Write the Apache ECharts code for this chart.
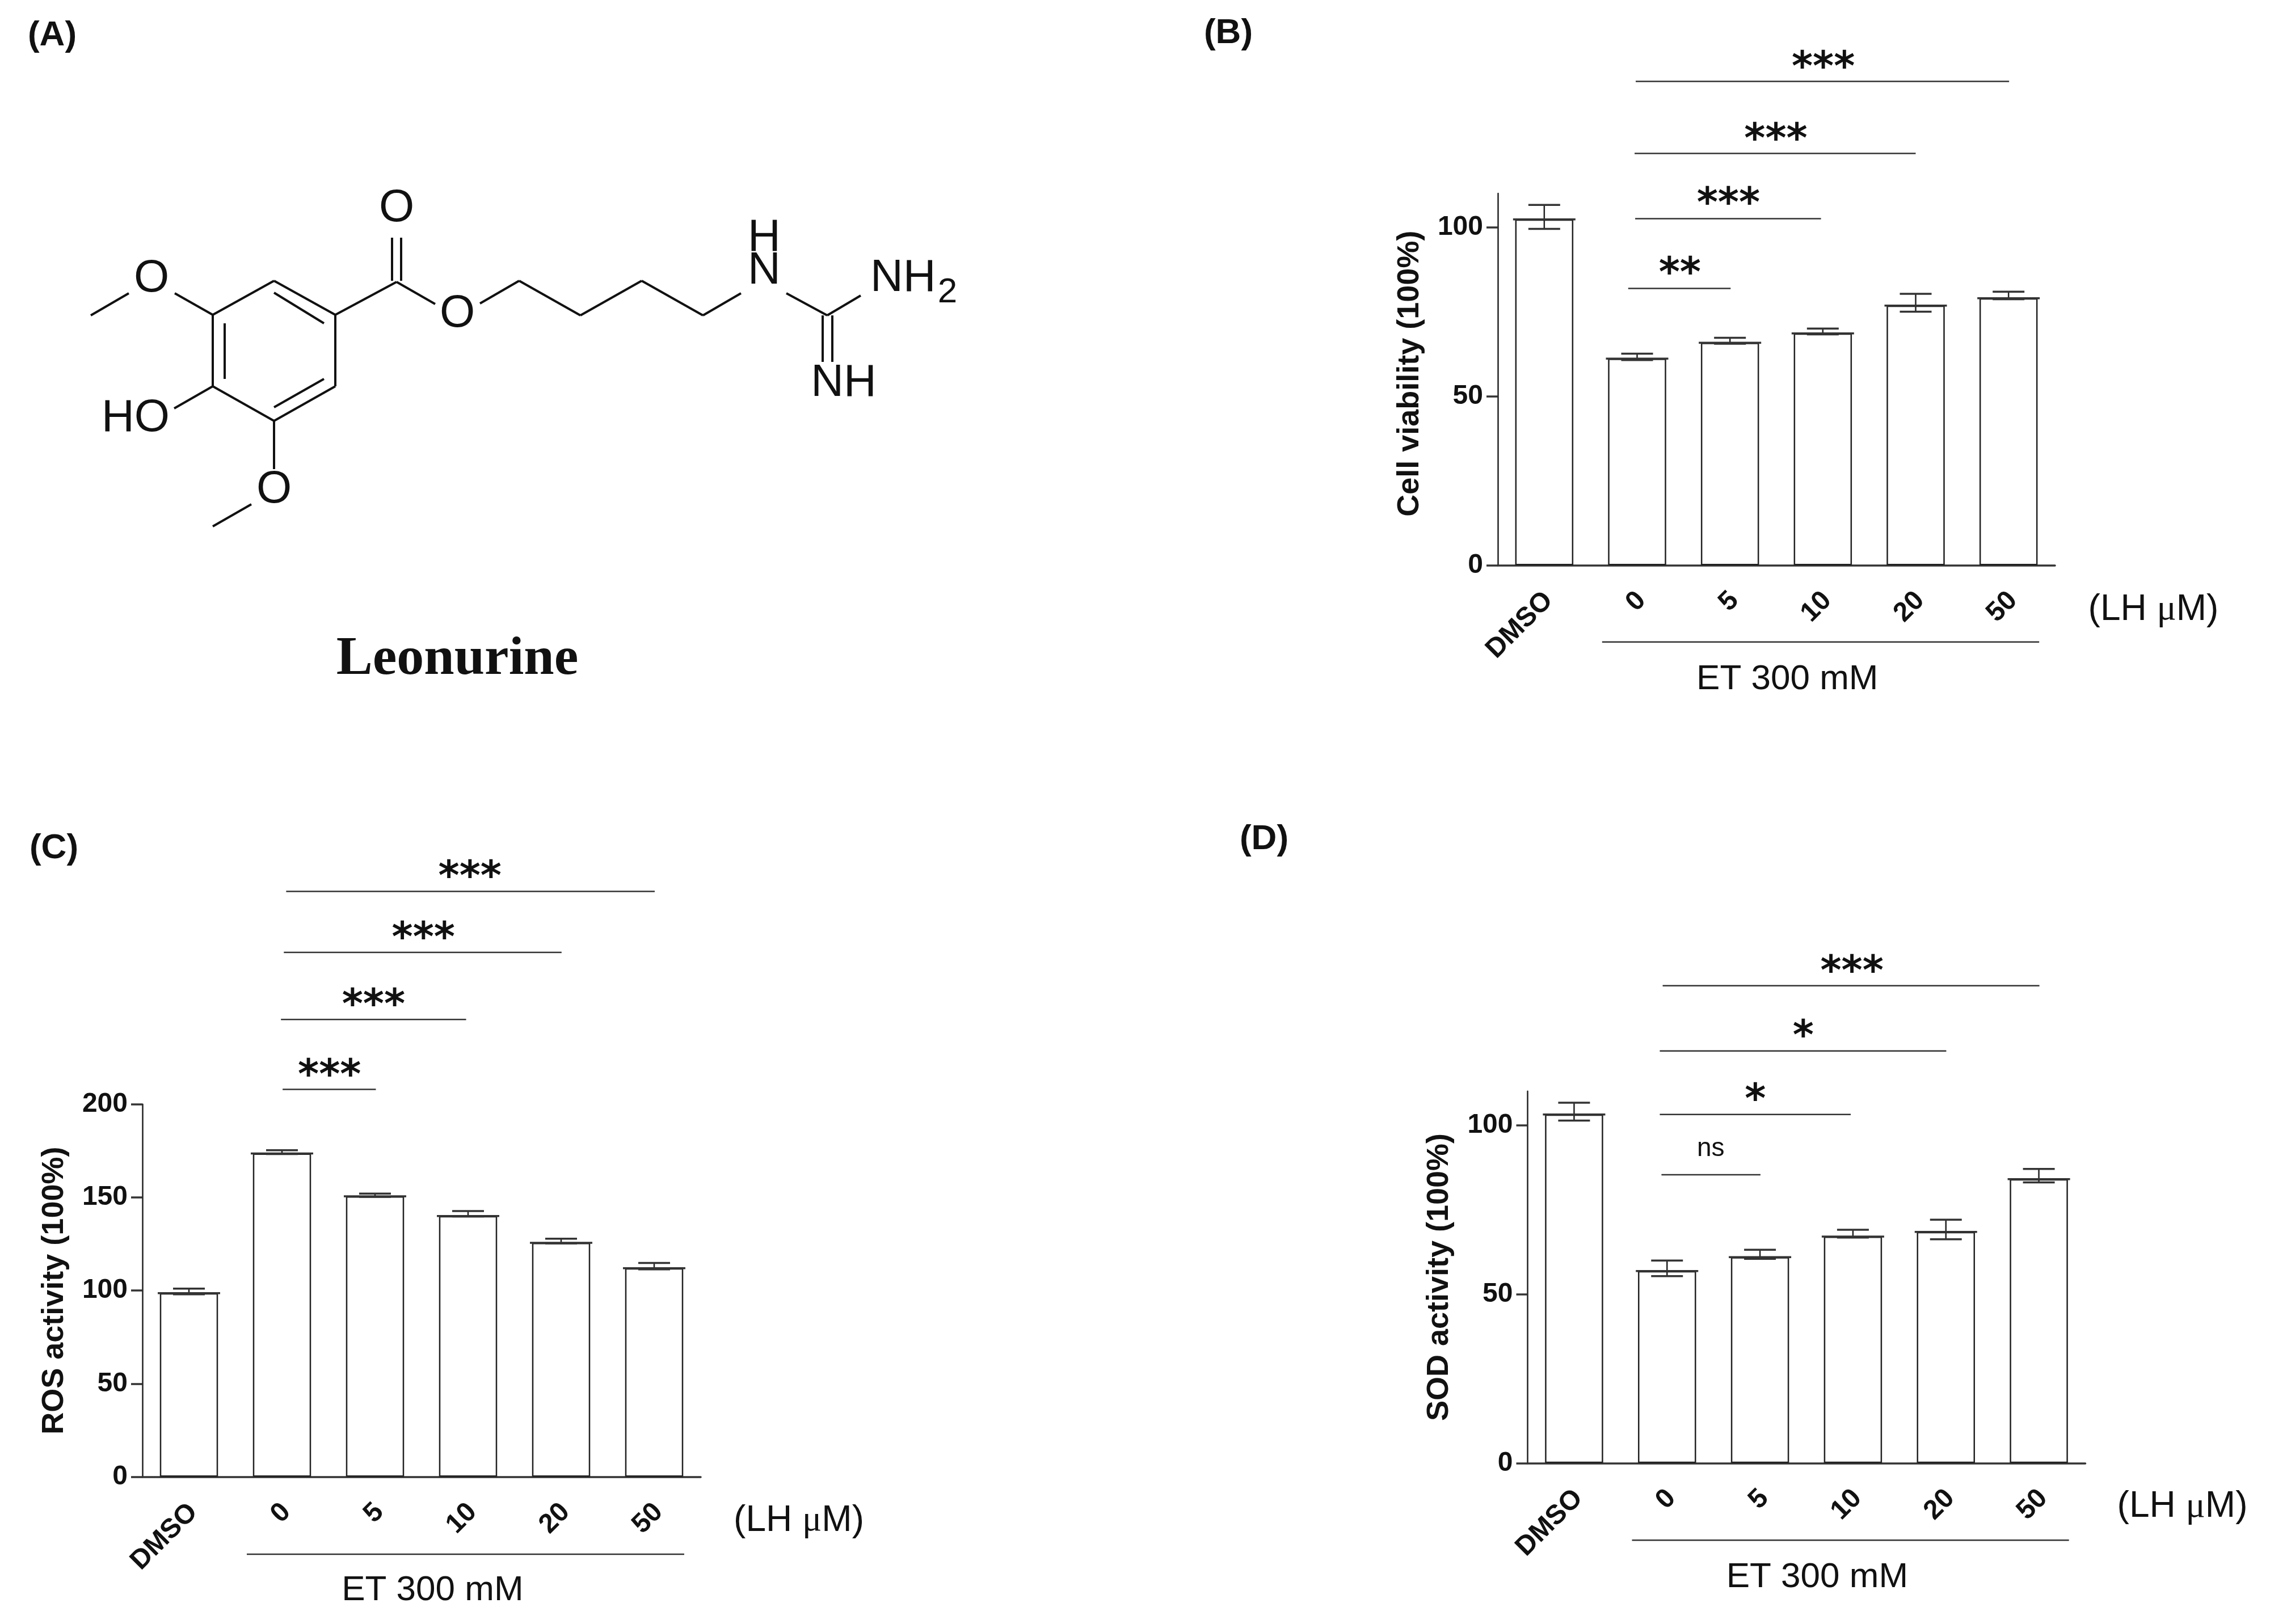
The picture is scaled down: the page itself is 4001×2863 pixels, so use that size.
<!DOCTYPE html>
<html>
<head>
<meta charset="UTF-8">
<title>Leonurine</title>
<script type="text/javascript" src="https://cdn.jsdelivr.net/npm/echarts@6/dist/echarts.min.js"></script>
<style>
	html, body { margin: 0; padding: 0; background: #fff; }
	#main { width: 4001px; height: 2863px; }
</style>
</head>
<body>
<div id="main"></div>
<script>
	var categories = ['DMSO', '0', '5', '10', '20', '50'];

	// panel B
	var cellMean = [102.3, 61.1, 65.8, 68.6, 76.8, 79.0];
	var cellHigh = [106.6, 62.6, 67.3, 70.0, 80.3, 80.9];
	var cellLow = [99.5, 60.7, 65.5, 68.3, 75.0, 78.7];
	var cellTicks = [0, 50, 100];
	// from, to, level (x in category steps, level in axis units)
	var cellSigLines = [[0.985, 5.006, 143.1], [0.973, 4.0, 121.8], [0.979, 2.98, 102.5], [0.904, 2.007, 81.9], [0.623, 5.33, -22.7]];
	// text, x, level
	var cellSigLabels = [['***', 3.005, 149.5], ['***', 2.494, 128.2], ['***', 1.983, 109.3], ['**', 1.46, 88.6], ['ET 300 mM', 2.618, -33.8], ['LH', 6.56, -13.2]];

	// panel C
	var rosMean = [98.6, 173.6, 150.6, 140.0, 125.6, 112.0];
	var rosHigh = [101.0, 175.3, 152.0, 142.7, 127.8, 114.8];
	var rosLow = [98.0, 173.3, 150.3, 139.8, 125.3, 111.4];
	var rosTicks = [0, 50, 100, 150, 200];
	var rosSigLines = [[1.045, 5.006, 314.2], [1.02, 4.005, 281.5], [0.989, 2.979, 245.5], [1.007, 2.009, 208.0], [0.622, 5.323, -41.5]];
	var rosSigLabels = [['***', 3.02, 326.1], ['***', 2.52, 293.2], ['***', 1.984, 257.4], ['***', 1.511, 219.6], ['ET 300 mM', 2.618, -61.1], ['LH', 6.555, -23.6]];

	// panel D
	var sodMean = [103.1, 56.8, 60.9, 67.0, 68.4, 84.0];
	var sodHigh = [106.6, 59.9, 63.1, 69.0, 72.0, 87.0];
	var sodLow = [101.3, 55.3, 60.4, 66.7, 66.2, 83.0];
	var sodTicks = [0, 50, 100];
	var sodSigLines = [[0.953, 5.006, 141.2], [0.922, 4.004, 121.9], [0.922, 2.976, 103.1], [0.94, 2.005, 85.3], [0.623, 5.324, -22.8]];
	var sodSigLabels = [['***', 2.989, 147.6], ['*', 2.466, 128.5], ['*', 1.949, 109.7], ['ns', 1.47, 93], ['ET 300 mM', 2.615, -33.8], ['LH', 6.544, -13]];

	var SANS = '"Liberation Sans", Arial, sans-serif';
	var INK = '#222';

	var panels = [
		{ name: 'Cell viability (100%)', namePad: 20, mean: cellMean, high: cellHigh, low: cellLow, ticks: cellTicks, max: 110, lines: cellSigLines, labels: cellSigLabels, grid: { left: 2640, top: 340.9, width: 982, height: 655.6 } },
		{ name: 'ROS activity (100%)', namePad: 0, mean: rosMean, high: rosHigh, low: rosLow, ticks: rosTicks, max: 200, lines: rosSigLines, labels: rosSigLabels, grid: { left: 251, top: 1946.7, width: 984, height: 656.9 } },
		{ name: 'SOD activity (100%)', namePad: 0, mean: sodMean, high: sodHigh, low: sodLow, ticks: sodTicks, max: 110, lines: sodSigLines, labels: sodSigLabels, grid: { left: 2692.5, top: 1923.7, width: 983, height: 655.6 } }
	];

	function renderError(params, api) {
		var x = api.value(0);
		var hi = api.coord([x, api.value(1)]);
		var lo = api.coord([x, api.value(2)]);
		var top = api.coord([x, api.value(3)]);
		var capW = 28;
		var style = { stroke: INK, lineWidth: 2.5, fill: null };
		var capStyle = { stroke: '#333', lineWidth: 3.5, fill: null };
		return {
			type: 'group',
			children: [
				{ type: 'line', shape: { x1: hi[0], y1: hi[1], x2: lo[0], y2: lo[1] }, style: style },
				{ type: 'line', shape: { x1: hi[0] - capW, y1: hi[1], x2: hi[0] + capW, y2: hi[1] }, style: capStyle },
				{ type: 'line', shape: { x1: lo[0] - capW, y1: lo[1], x2: lo[0] + capW, y2: lo[1] }, style: capStyle },
				// the bar's top edge overhangs its sides a little
				{ type: 'line', shape: { x1: top[0] - 55, y1: top[1], x2: top[0] + 55, y2: top[1] }, style: capStyle }
			]
		};
	}

	function renderSigLine(params, api) {
		var a = api.coord([api.value(0), api.value(2)]);
		var b = api.coord([api.value(1), api.value(2)]);
		return { type: 'line', shape: { x1: a[0], y1: a[1], x2: b[0], y2: b[1] }, style: { stroke: '#333', lineWidth: 2.5, fill: null } };
	}

	function makeLabelRenderer(labels) {
		return function(params, api) {
			var txt = labels[params.dataIndex][0];
			var p = api.coord([api.value(0), api.value(1)]);
			var style = { x: p[0], y: p[1], align: 'center', verticalAlign: 'middle', fill: '#111', text: txt };
			if (txt.charAt(0) === '*') {
				// asterisk sits high in the em box
				style.font = 'bold 71px "DejaVu Sans", sans-serif';
				style.y = p[1] + 17;
			} else if (txt === 'ns') {
				style.font = '46px ' + SANS;
			} else if (txt === 'LH') {
				style.text = '{a|(LH }{b|μ}{a|M)}';
				style.rich = {
					a: { font: '64px ' + SANS, fill: '#111' },
					b: { font: '64px "Liberation Serif", serif', fill: '#111' }
				};
			} else {
				style.font = '62px ' + SANS;
			}
			return { type: 'text', style: style };
		};
	}

	var grids = [], xAxes = [], yAxes = [], series = [];
	panels.forEach(function(p, i) {
		grids.push(p.grid);
		xAxes.push({
			type: 'category', gridIndex: i, data: categories,
			axisLine: { lineStyle: { color: '#333', width: 3.5 } },
			axisTick: { alignWithLabel: true, length: 20, lineStyle: { color: INK, width: 2.5 } },
			axisLabel: { interval: 0, rotate: 45, margin: 47, verticalAlign: 'top', lineHeight: 22, color: '#111', fontFamily: SANS, fontWeight: 'bold', fontSize: 48 }
		});
		yAxes.push({
			type: 'value', gridIndex: i, min: 0, max: p.max, interval: 50,
			name: p.name, nameLocation: 'middle', nameGap: 128,
			nameTextStyle: { color: '#111', fontFamily: SANS, fontWeight: 'bold', fontSize: 54, padding: [0, 0, 0, p.namePad] },
			axisLine: { show: true, onZero: false, lineStyle: { color: INK, width: 2.5 } },
			axisTick: { show: true, length: 20, customValues: p.ticks, lineStyle: { color: '#333', width: 3.5 } },
			axisLabel: { customValues: p.ticks, margin: 26, color: '#111', fontFamily: SANS, fontWeight: 'bold', fontSize: 48 },
			splitLine: { show: false }
		});
	});
	// hidden numeric x axes, the significance bars do not start exactly on a category
	panels.forEach(function(p, i) {
		xAxes.push({ type: 'value', gridIndex: i, min: -0.5, max: 5.5, show: false });
	});
	panels.forEach(function(p, i) {
		series.push({
			type: 'bar', xAxisIndex: i, yAxisIndex: i, barWidth: 102.5, data: p.mean,
			itemStyle: { color: '#fff', borderColor: INK, borderWidth: 2.5 }, silent: true
		});
		series.push({
			type: 'custom', xAxisIndex: i, yAxisIndex: i, renderItem: renderError, silent: true, z: 5,
			data: p.high.map(function(h, k) { return [k, h, p.low[k], p.mean[k]]; })
		});
		series.push({
			type: 'custom', xAxisIndex: i + 3, yAxisIndex: i, renderItem: renderSigLine, silent: true, clip: false,
			encode: { x: [0, 1], y: 2 }, data: p.lines
		});
		series.push({
			type: 'custom', xAxisIndex: i + 3, yAxisIndex: i, renderItem: makeLabelRenderer(p.labels), silent: true, clip: false,
			encode: { x: 0, y: 1 },
			data: p.labels.map(function(l) { return [l[1], l[2]]; })
		});
	});

	// panel A, the molecule is a picture and not data
	var bonds = [
		[483,495,591,555],[591,555,591,681],[591,681,483,742],[483,742,375,681],[375,681,375,555],[375,555,483,495],
		[483,516,571,570],[571,668,483,718],[396,570,396,668],
		[591,555,699,497],[691,419,691,495],[707,419,707,495],[699,497,767,536],
		[846,535,915,495],[915,495,1023,556],[1023,556,1131,495],[1131,495,1239,556],[1239,556,1306,517],
		[1386,517,1458,556],[1458,556,1517,521],[1450,556,1450,638],[1467,556,1467,638],
		[375,555,308,517],[227,517,160,556],[375,681,307,720],[483,742,483,827],[443,889,375,928]
	];
	var atoms = [
		['O',699,368],['O',806,554],['H',1347,420],['N',1347,478],['NH',1487,676],
		['O',267,492],['HO',239,738],['O',483,864]
	];
	var graphic = bonds.map(function(b) {
		return { type: 'line', shape: { x1: b[0], y1: b[1], x2: b[2], y2: b[3] }, style: { stroke: '#111', lineWidth: 4 } };
	});
	function addText(txt, x, y, font, align) {
		graphic.push({ type: 'text', x: x, y: y, style: { text: txt, font: font, fill: '#111', align: align || 'center', verticalAlign: 'middle' } });
	}
	atoms.forEach(function(a) { addText(a[0], a[1], a[2], '80px ' + SANS); });
	addText('NH', 1534, 491, '80px ' + SANS, 'left');
	addText('2', 1670, 516, '62px ' + SANS);
	addText('Leonurine', 806, 1163, 'bold 96px "Liberation Serif", serif');
	addText('(A)', 92, 63, 'bold 62px ' + SANS);
	addText('(B)', 2165, 59, 'bold 62px ' + SANS);
	addText('(C)', 95, 1496, 'bold 62px ' + SANS);
	addText('(D)', 2228, 1480, 'bold 62px ' + SANS);

	var chart = echarts.init(document.getElementById('main'));
	chart.setOption({
		backgroundColor: '#fff',
		animation: false,
		grid: grids,
		xAxis: xAxes,
		yAxis: yAxes,
		series: series,
		graphic: graphic
	});
</script>
</body>
</html>
